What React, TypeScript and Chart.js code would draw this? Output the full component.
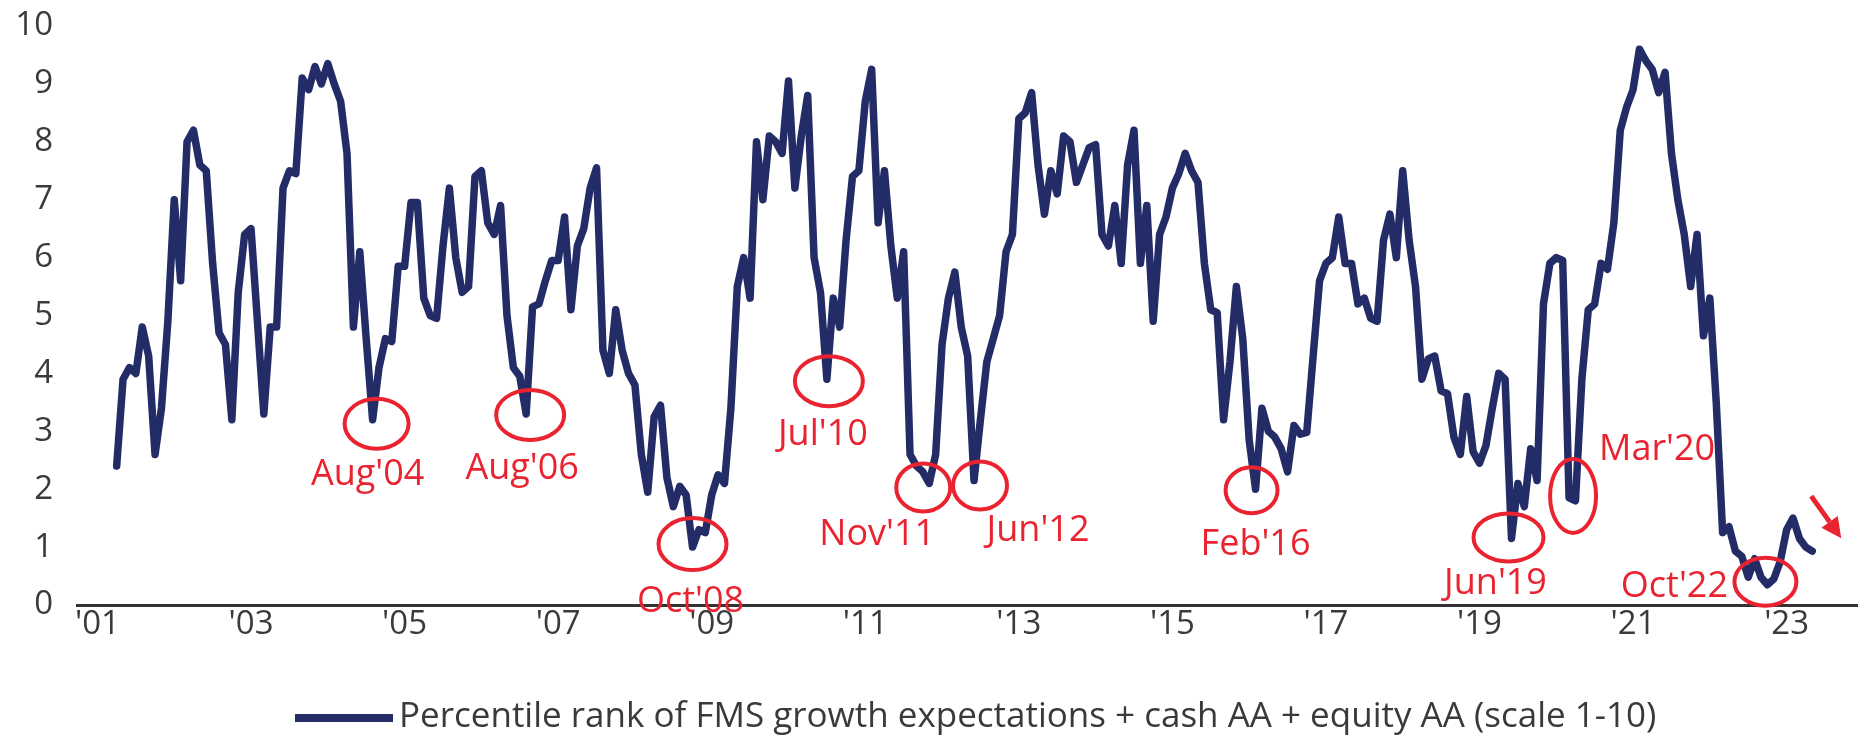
import React, { useEffect, useRef } from "react";
import { Chart, registerables } from "chart.js";

Chart.register(...registerables);

// ---------- DATA (monthly, first value = Apr 2001) ----------
const firstYear = 2001;
const firstMonth = 4; // April
const v2001 = [2.4, 3.9, 4.1, 4.0, 4.8, 4.3, 2.6, 3.4, 4.9];
const v2002 = [7.0, 5.6, 8.0, 8.2, 7.6, 7.5, 5.9, 4.7, 4.5, 3.2, 5.4, 6.4];
const v2003 = [6.5, 4.9, 3.3, 4.8, 4.8, 7.2, 7.5, 7.45, 9.1, 8.9, 9.3, 9.0];
const v2004 = [9.35, 9.0, 8.7, 7.8, 4.8, 6.1, 4.6, 3.2, 4.1, 4.6, 4.55, 5.85];
const v2005 = [5.85, 6.95, 6.95, 5.3, 5.0, 4.95, 6.2, 7.2, 6.0, 5.4, 5.5, 7.4];
const v2006 = [7.5, 6.6, 6.4, 6.9, 5.0, 4.1, 3.95, 3.3, 5.15, 5.2, 5.6, 5.95];
const v2007 = [5.95, 6.7, 5.1, 6.2, 6.5, 7.2, 7.55, 4.4, 4.0, 5.1, 4.4, 4.0];
const v2008 = [3.8, 2.6, 1.95, 3.25, 3.45, 2.2, 1.7, 2.05, 1.9, 1.0, 1.3, 1.25];
const v2009 = [1.9, 2.25, 2.1, 3.4, 5.5, 6.0, 5.3, 8.0, 7.0, 8.1, 8.0, 7.8];
const v2010 = [9.05, 7.2, 8.1, 8.8, 6.0, 5.4, 3.9, 5.3, 4.8, 6.3, 7.4, 7.5];
const v2011 = [8.7, 9.25, 6.6, 7.5, 6.2, 5.3, 6.1, 2.6, 2.4, 2.3, 2.1, 2.6];
const v2012 = [4.5, 5.3, 5.75, 4.8, 4.3, 2.15, 3.2, 4.2, 4.6, 5.0, 6.1, 6.4];
const v2013 = [8.4, 8.5, 8.85, 7.6, 6.75, 7.5, 7.1, 8.1, 8.0, 7.3, 7.6, 7.9];
const v2014 = [7.95, 6.4, 6.2, 6.9, 5.9, 7.6, 8.2, 5.9, 6.9, 4.9, 6.4, 6.7];
const v2015 = [7.2, 7.45, 7.8, 7.5, 7.3, 5.9, 5.1, 5.05, 3.2, 4.2, 5.5, 4.6];
const v2016 = [2.85, 2.0, 3.4, 3.0, 2.9, 2.7, 2.3, 3.1, 2.95, 2.98, 4.3, 5.6];
const v2017 = [5.9, 6.0, 6.7, 5.9, 5.9, 5.2, 5.3, 4.95, 4.9, 6.3, 6.75, 6.0];
const v2018 = [7.5, 6.3, 5.5, 3.9, 4.25, 4.3, 3.7, 3.65, 2.9, 2.6, 3.6, 2.65];
const v2019 = [2.45, 2.75, 3.4, 4.0, 3.9, 1.15, 2.1, 1.7, 2.7, 2.15, 5.2, 5.9];
const v2020 = [6.0, 5.95, 1.85, 1.8, 3.9, 5.1, 5.2, 5.9, 5.8, 6.6, 8.2, 8.6];
const v2021 = [8.9, 9.6, 9.4, 9.25, 8.85, 9.2, 7.8, 7.0, 6.4, 5.5, 6.4, 4.65];
const v2022 = [5.3, 3.5, 1.25, 1.35, 0.93, 0.84, 0.48, 0.8, 0.48, 0.35, 0.45, 0.75];
const v2023 = [1.3, 1.5, 1.15, 1.0, 0.93];

const seriesValues = [
  ...v2001, ...v2002, ...v2003, ...v2004, ...v2005, ...v2006, ...v2007, ...v2008,
  ...v2009, ...v2010, ...v2011, ...v2012, ...v2013, ...v2014, ...v2015, ...v2016,
  ...v2017, ...v2018, ...v2019, ...v2020, ...v2021, ...v2022, ...v2023,
];

const tickYears = [2001, 2003, 2005, 2007, 2009, 2011, 2013, 2015, 2017, 2019, 2021, 2023];
const tickLabels = ["'01", "'03", "'05", "'07", "'09", "'11", "'13", "'15", "'17", "'19", "'21", "'23"];
const yTicks = [0, 1, 2, 3, 4, 5, 6, 7, 8, 9, 10];

const legendText = "Percentile rank of FMS growth expectations + cash AA + equity AA (scale 1-10)";

// annotated troughs: label text and date (year, month)
const annotationLabels = ["Aug'04", "Aug'06", "Oct'08", "Jul'10", "Nov'11", "Jun'12", "Feb'16", "Jun'19", "Mar'20", "Oct'22"];
const annotationYears = [2004, 2006, 2008, 2010, 2011, 2012, 2016, 2019, 2020, 2022];
const annotationMonths = [8, 8, 10, 7, 11, 6, 2, 6, 3, 10];

// ---------- STYLES ----------
const NAVY = "#232c66";
const RED = "#ea2330";
const TEXT = "#3a3a3a";
const FONT = "'Open Sans', 'Noto Sans', sans-serif";

// per-annotation drawing style: ellipse offset from the trough (px), radii, label offset (center x, baseline y)
const annotationStyles = [
  { dx: 4, dy: 4, rx: 32, ry: 25, lx: -5, ly: 65 },
  { dx: 4, dy: 1, rx: 34, ry: 25, lx: -4, ly: 65 },
  { dx: 0, dy: -3, rx: 34, ry: 26, lx: -2, ly: 65 },
  { dx: 2, dy: 2, rx: 34, ry: 25, lx: -4, ly: 66 },
  { dx: -6, dy: 4, rx: 27, ry: 24, lx: -52, ly: 62 },
  { dx: 6, dy: 5, rx: 27, ry: 24, lx: 64, ly: 60 },
  { dx: -4, dy: 1, rx: 26, ry: 23, lx: 0, ly: 66 },
  { dx: -3, dy: -1, rx: 35, ry: 24, lx: -16, ly: 56 },
  { dx: 4, dy: -2, rx: 23, ry: 37, lx: 88, ly: -38 },
  { dx: -2, dy: -3, rx: 31, ry: 24, lx: -93, ly: 12 },
];

const monthIndex = (y: number, m: number) => (y - 2001) * 12 + (m - 1);
const startIndex = monthIndex(firstYear, firstMonth);

const annotationPlugin = {
  id: "troughAnnotations",
  afterDatasetsDraw(chart: any) {
    const { ctx, scales } = chart;
    const xs = scales.x;
    const ys = scales.y;
    ctx.save();
    annotationLabels.forEach((label, i) => {
      const mi = monthIndex(annotationYears[i], annotationMonths[i]);
      const val = seriesValues[mi - startIndex];
      const px = xs.getPixelForValue(mi);
      const py = ys.getPixelForValue(val);
      const st = annotationStyles[i];
      ctx.beginPath();
      ctx.ellipse(px + st.dx, py + st.dy, st.rx, st.ry, 0, 0, Math.PI * 2);
      ctx.strokeStyle = RED;
      ctx.lineWidth = 4;
      ctx.stroke();
      ctx.fillStyle = RED;
      ctx.font = `36px ${FONT}`;
      ctx.textAlign = "center";
      ctx.textBaseline = "alphabetic";
      ctx.fillText(label, px + st.lx, py + st.ly);
    });
    // arrow after the last point
    const lastI = seriesValues.length - 1;
    const lx = xs.getPixelForValue(startIndex + lastI);
    const ly = ys.getPixelForValue(seriesValues[lastI]);
    const x1 = lx - 1, y1 = ly - 55, x2 = lx + 29, y2 = ly - 13;
    const ang = Math.atan2(y2 - y1, x2 - x1);
    const head = 20;
    const bx = x2 - head * Math.cos(ang), by = y2 - head * Math.sin(ang);
    ctx.strokeStyle = RED;
    ctx.lineWidth = 5;
    ctx.beginPath();
    ctx.moveTo(x1, y1);
    ctx.lineTo(bx, by);
    ctx.stroke();
    ctx.beginPath();
    ctx.moveTo(x2, y2);
    ctx.lineTo(bx + 10 * Math.sin(ang), by - 10 * Math.cos(ang));
    ctx.lineTo(bx - 10 * Math.sin(ang), by + 10 * Math.cos(ang));
    ctx.closePath();
    ctx.fillStyle = RED;
    ctx.fill();
    ctx.restore();
  },
};

const legendPlugin = {
  id: "bottomLegend",
  afterDraw(chart: any) {
    const { ctx } = chart;
    ctx.save();
    ctx.strokeStyle = NAVY;
    ctx.lineWidth = 8;
    ctx.beginPath();
    ctx.moveTo(295, 718);
    ctx.lineTo(393, 718);
    ctx.stroke();
    ctx.fillStyle = TEXT;
    ctx.font = `35px ${FONT}`;
    ctx.textAlign = "left";
    ctx.textBaseline = "middle";
    ctx.fillText(legendText, 399, 717);
    ctx.restore();
  },
};

export default function App() {
  const canvasRef = useRef<HTMLCanvasElement | null>(null);

  useEffect(() => {
    if (!canvasRef.current) return;
    const points = seriesValues.map((v, i) => ({ x: startIndex + i, y: v }));
    const tickValues = tickYears.map((y) => monthIndex(y, 1));
    const chart = new Chart(canvasRef.current, {
      type: "line",
      data: {
        datasets: [
          {
            label: legendText,
            data: points,
            borderColor: NAVY,
            backgroundColor: NAVY,
            borderWidth: 7.5,
            pointRadius: 0,
            tension: 0,
            borderJoinStyle: "round",
            borderCapStyle: "round",
          },
        ],
      },
      options: {
        responsive: false,
        animation: false,
        layout: { padding: { top: 26, right: 9, left: 0, bottom: 0 } },
        plugins: { legend: { display: false }, tooltip: { enabled: false } },
        scales: {
          x: {
            type: "linear",
            min: -3.2,
            max: 275,
            grid: { display: false, drawTicks: false },
            border: { display: true, color: "#333333", width: 3 },
            afterBuildTicks: (s: any) => {
              s.ticks = tickValues.map((v) => ({ value: v }));
            },
            afterFit: (s: any) => {
              s.height = 134;
            },
            ticks: {
              autoSkip: false,
              maxRotation: 0,
              padding: 0,
              color: TEXT,
              font: { family: FONT, size: 33 },
              callback: (value: any) => {
                const idx = tickValues.indexOf(Number(value));
                return idx >= 0 ? tickLabels[idx] : "";
              },
            },
          },
          y: {
            min: 0,
            max: 10,
            afterBuildTicks: (s: any) => {
              s.ticks = yTicks.map((v) => ({ value: v }));
            },
            afterFit: (s: any) => {
              s.width = 77;
            },
            grid: {
              display: true,
              drawOnChartArea: false,
              drawTicks: true,
              tickLength: 24,
              color: "rgba(0,0,0,0)",
            },
            border: { display: false },
            ticks: {
              padding: 0,
              color: TEXT,
              font: { family: FONT, size: 33 },
            },
          },
        },
      },
      plugins: [annotationPlugin, legendPlugin],
    } as any);
    return () => chart.destroy();
  }, []);

  return (
    <div style={{ position: "absolute", left: 0, top: 0, width: 1866, height: 739, background: "#fff" }}>
      <canvas ref={canvasRef} width={1866} height={739} style={{ display: "block" }} />
    </div>
  );
}
